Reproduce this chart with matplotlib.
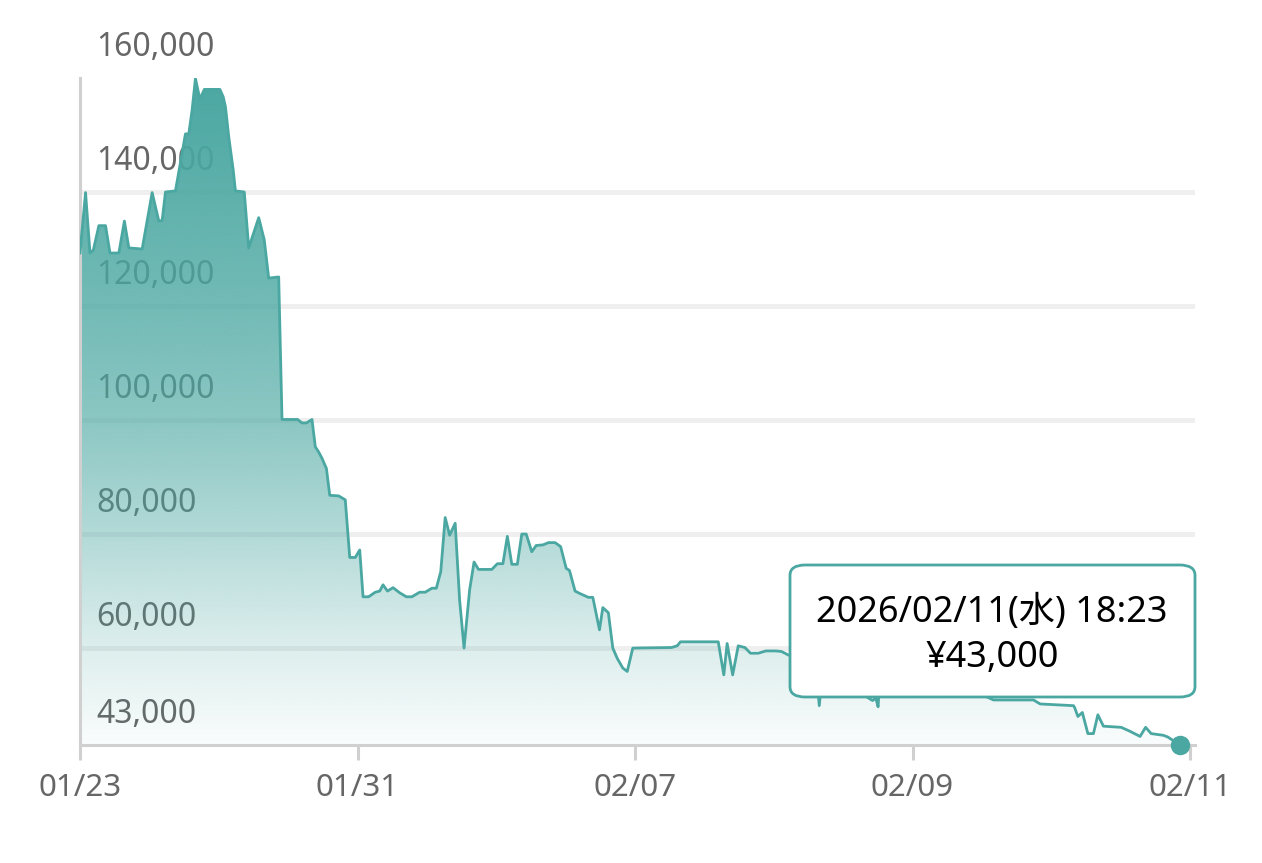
import numpy as np
import matplotlib
matplotlib.use("Agg")
import matplotlib.pyplot as plt
from matplotlib.patches import FancyBboxPatch

plt.rcParams['font.family'] = ['Noto Sans', 'Noto Sans CJK JP', 'DejaVu Sans']

# position along the period (0 = 01/23 tick, 100 = 02/11 tick), price in yen
pos = [0.0, 0.5, 0.9, 1.2, 1.7, 2.3, 2.7, 3.5, 4.0, 4.4, 5.6, 6.5, 7.1, 7.4, 7.7, 8.6,
       9.5, 9.8, 10.1, 10.4, 10.8, 11.2, 12.6, 12.9, 13.1, 13.4, 13.8, 14.0, 14.8, 15.2,
       16.1, 16.6, 17.0, 17.9, 18.2, 19.6, 20.0, 20.4, 20.9, 21.2, 21.5, 21.8, 22.2, 22.5,
       23.3, 23.9, 24.3, 24.8, 25.2, 25.5, 26.0, 26.6, 27.0, 27.3, 27.7, 28.2, 28.8, 29.4,
       29.9, 30.6, 31.1, 31.7, 32.1, 32.5, 32.9, 33.3, 33.8, 34.2, 34.6, 35.1, 35.5, 35.9,
       37.1, 37.6, 38.1, 38.5, 38.9, 39.4, 39.8, 40.2, 40.7, 41.1, 41.7, 42.2, 42.8, 43.3,
       43.8, 44.1, 44.6, 45.0, 45.8, 46.2, 46.8, 47.1, 47.6, 48.0, 48.4, 48.9, 49.3, 49.8,
       53.3, 53.8, 54.1, 57.5, 58.0, 58.3, 58.8, 59.3, 59.9, 60.4, 61.1, 61.8, 62.7, 63.2,
       63.8, 64.4, 65.3, 65.9, 66.4, 66.6, 66.8, 68.9, 70.5, 70.9, 71.4, 71.7, 71.9, 72.0,
       73.9, 76.6, 79.3, 81.5, 82.3, 85.9, 86.5, 89.5, 89.6, 89.9, 90.3, 90.8, 91.3, 91.7,
       92.2, 93.8, 94.6, 95.5, 96.0, 96.5, 97.6, 98.0, 99.1]
price = [129300, 139900, 129300, 129800, 134100, 134100, 129300, 129300, 134900, 130200,
         130000, 139900, 134900, 135000, 140000, 140200, 150200, 150200, 154400, 159900,
         156300, 158000, 158000, 156700, 155000, 149700, 143900, 140200, 140000, 130200,
         135500, 131600, 124900, 125100, 100100, 100100, 99500, 99500, 100100, 95300,
         94400, 93300, 91500, 86800, 86700, 86000, 75900, 75900, 77200, 69000,
         69000, 69800, 70000, 71100, 70000, 70600, 69700, 69000, 69000, 69800,
         69800, 70500, 70500, 73400, 82900, 79800, 81900, 68400, 60000, 70200,
         75100, 73800, 73800, 74800, 74800, 79600, 74700, 74700, 80000, 80000,
         76900, 78000, 78100, 78500, 78500, 77800, 74000, 73600, 70000, 69600,
         68900, 68900, 63200, 67100, 66200, 60000, 58200, 56500, 55900, 60000,
         60100, 60400, 61100, 61100, 55300, 60800, 55300, 60400, 60100, 59100,
         59100, 59500, 59500, 59400, 58800, 58500, 56500, 54500, 54300, 49900,
         54000, 53800, 53500, 51400, 50800, 51200, 49700, 53000, 52800, 52300,
         51800, 51600, 50900, 50900, 50200, 49900, 49600, 48000, 48700, 45000,
         45000, 48300, 46300, 46100, 45400, 44500, 46100, 45000, 44700, 44400,
         43000]

tick_pos = [0, 25, 50, 75, 100]
tick_labels = ['01/23', '01/31', '02/07', '02/09', '02/11']
y_labels = [160000, 140000, 120000, 100000, 80000, 60000, 43000]
grid_vals = [140000, 120000, 100000, 80000, 60000]

tooltip_date = '2026/02/11(水) 18:23'
tooltip_price = '¥43,000'

teal = '#4aa7a1'
ymin, ymax = 43000, 160000
xmax = 100.45

fig = plt.figure(figsize=(12.62, 8.63), dpi=100)
ax = fig.add_axes([80 / 1262, 1 - 745 / 863, 1115 / 1262, 667 / 863])
ax.set_xlim(0, xmax)
ax.set_ylim(ymin, ymax)

# grid
for g in grid_vals:
    ax.axhline(g, color='#efefef', lw=3.6, zorder=0.5)

# y labels sit above their level, inside the plot
for v in y_labels:
    ax.annotate(f'{v:,}', xy=(0, v), xycoords=('axes fraction', 'data'),
                xytext=(12, 22), textcoords='offset points',
                ha='left', va='center', fontsize=23, color='#666666',
                zorder=1, annotation_clip=False)

# gradient fill under the line
fill = ax.fill_between(pos, price, ymin, facecolor='none', edgecolor='none')
f = np.linspace(0, 1, 400)
alpha = np.interp(f, [0, 0.145, 0.316, 0.487, 0.658, 1.0],
                  [0.03, 0.19, 0.425, 0.64, 0.78, 1.0])
rgba = np.zeros((400, 1, 4))
rgba[..., :3] = matplotlib.colors.to_rgb(teal)
rgba[:, 0, 3] = alpha
img = ax.imshow(rgba, extent=[0, xmax, ymin, ymax], origin='lower',
                aspect='auto', interpolation='bilinear', zorder=2)
img.set_clip_path(fill.get_paths()[0], transform=ax.transData)

ax.plot(pos, price, color=teal, lw=2, zorder=3, solid_joinstyle='round')
ax.plot(pos[-1], price[-1], 'o', color=teal, ms=13, zorder=5, clip_on=False)

# axes styling
for s in ['top', 'right']:
    ax.spines[s].set_visible(False)
for s in ['left', 'bottom']:
    ax.spines[s].set_color('#d0d0d0')
    ax.spines[s].set_linewidth(2.2)
    ax.spines[s].set_zorder(2.5)
ax.set_yticks([])
ax.set_xticks(tick_pos)
ax.set_xticklabels(tick_labels)
ax.tick_params(axis='x', length=11, width=2.2, color='#d0d0d0',
               labelsize=22.5, labelcolor='#666666', pad=9)

# tooltip
box = FancyBboxPatch((790 / 1262, 1 - 697 / 863), 405 / 1262, 132 / 863,
                     boxstyle='round,pad=0,rounding_size=0.012',
                     transform=fig.transFigure, facecolor='white',
                     edgecolor=teal, lw=2, zorder=6)
fig.patches.append(box)
fig.text(992 / 1262, 1 - 613 / 863, tooltip_date, ha='center', va='center',
         fontsize=26, color='black', zorder=7)
fig.text(992 / 1262, 1 - 658 / 863, tooltip_price, ha='center', va='center',
         fontsize=26, color='black', zorder=7)

fig.savefig('out.png', dpi=100)
